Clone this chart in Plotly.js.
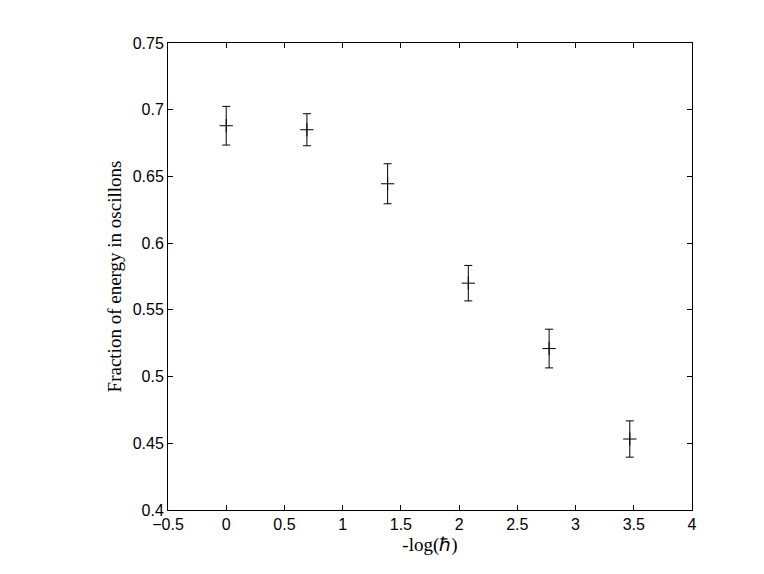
<!DOCTYPE html>
<html>
<head>
<meta charset="utf-8">
<script src="https://cdn.plot.ly/plotly-3.0.1.min.js"></script>
<style>html,body{margin:0;padding:0;background:#fff;}#chart{width:764px;height:574px;}</style>
</head>
<body>
<div id="chart"></div>
<script>
const xValues = [0, 0.693, 1.386, 2.079, 2.773, 3.466];
const yValues = [0.688, 0.685, 0.6445, 0.570, 0.521, 0.4532];
const yErrors = [0.0145, 0.012, 0.015, 0.0133, 0.0145, 0.0136];
const xTicks = [-0.5, 0, 0.5, 1, 1.5, 2, 2.5, 3, 3.5, 4];
const xTickLabels = ['\u22120.5', '0', '0.5', '1', '1.5', '2', '2.5', '3', '3.5', '4'];
const yTicks = [0.4, 0.45, 0.5, 0.55, 0.6, 0.65, 0.7, 0.75];
const yTickLabels = ['0.4', '0.45', '0.5', '0.55', '0.6', '0.65', '0.7', '0.75'];

const trace = {
  x: xValues, y: yValues, type: 'scatter', mode: 'markers',
  marker: {symbol: 'cross-thin', size: 9.5, color: '#000', line: {color: '#000', width: 1}},
  error_y: {type: 'data', array: yErrors, visible: true, color: '#000', thickness: 1, width: 4},
  hoverinfo: 'none', showlegend: false
};

const axisCommon = {
  showgrid: false, zeroline: false, showline: true, linecolor: '#000', linewidth: 1,
  mirror: 'ticks', ticks: 'inside', ticklen: 5, tickwidth: 1, tickcolor: '#000',
  tickfont: {family: 'Liberation Sans, Arial, sans-serif', size: 16, color: '#000'}
};

const layout = {
  width: 764, height: 574,
  margin: {l: 168, r: 72, t: 43, b: 64},
  paper_bgcolor: '#fff', plot_bgcolor: '#fff',
  xaxis: Object.assign({}, axisCommon, {
    range: [-0.5, 4], tickmode: 'array', tickvals: xTicks, ticktext: xTickLabels,
    title: {text: '-log(\u210F)', font: {family: 'Liberation Serif, Times New Roman, serif', size: 19, color: '#000'}, standoff: 5}
  }),
  yaxis: Object.assign({}, axisCommon, {
    range: [0.4, 0.75], tickmode: 'array', tickvals: yTicks, ticktext: yTickLabels,
    title: {text: 'Fraction of energy in oscillons', font: {family: 'Liberation Serif, Times New Roman, serif', size: 19, color: '#000'}, standoff: 6}
  })
};

Plotly.newPlot('chart', [trace], layout, {displayModeBar: false, staticPlot: true});
</script>
</body>
</html>
